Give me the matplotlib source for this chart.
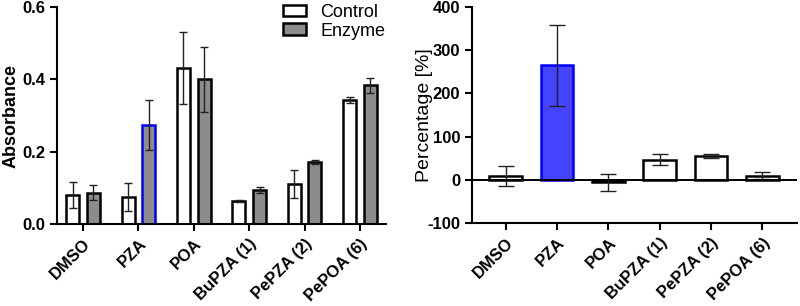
import numpy as np
import matplotlib
matplotlib.use('Agg')
from matplotlib import pyplot as plt

plt.rcParams['font.family'] = ['Liberation Sans', 'DejaVu Sans']
plt.rcParams['axes.unicode_minus'] = False

# data
compounds = ['DMSO', 'PZA', 'POA', 'BuPZA (1)', 'PePZA (2)', 'PePOA (6)']
control = [0.080, 0.074, 0.432, 0.063, 0.110, 0.342]
control_err = [0.037, 0.039, 0.100, 0.002, 0.038, 0.008]
enzyme = [0.087, 0.275, 0.400, 0.094, 0.172, 0.384]
enzyme_err = [0.022, 0.069, 0.090, 0.008, 0.006, 0.021]
percentage = [8, 265, -6, 47, 56, 10]
percentage_err = [23, 93, 20, 12, 5, 8]
highlight = 'PZA'

abs_ticks = [0.0, 0.2, 0.4, 0.6]
pct_ticks = [-100, 0, 100, 200, 300, 400]

fig = plt.figure(figsize=(8, 3.06), dpi=100)
ax1 = fig.add_axes([0.071, 0.268, 0.4115, 0.709])
ax2 = fig.add_axes([0.590, 0.271, 0.406, 0.706])

x = np.arange(len(compounds))
w = 0.235
off = 0.187
blue = '#0000ff'

ecol_enz = ['black'] * len(compounds)
ecol_enz[compounds.index(highlight)] = blue

ax1.bar(x - off, control, w, color='white', edgecolor='black', linewidth=1.8,
        label='Control', zorder=2)
ax1.bar(x + off, enzyme, w, color='#8c8c8c', edgecolor=ecol_enz, linewidth=1.8,
        label='Enzyme', zorder=2)
ax1.errorbar(x - off, control, yerr=control_err, fmt='none', ecolor='#222222',
             elinewidth=1.0, capsize=2.6, capthick=1.0, zorder=3)
ax1.errorbar(x + off, enzyme, yerr=enzyme_err, fmt='none', ecolor='#222222',
             elinewidth=1.0, capsize=2.6, capthick=1.0, zorder=3)

ax1.set_xlim(-0.475, 5.47)
ax1.set_ylim(0, 0.6)
ax1.set_yticks(abs_ticks)
ax1.set_yticklabels(['%.1f' % t for t in abs_ticks])
ax1.set_ylabel('Absorbance', fontsize=13, fontweight='bold')
ax1.yaxis.set_label_coords(-0.113, 0.5)
leg = ax1.legend(loc='upper right', bbox_to_anchor=(1.03, 1.065), frameon=False,
                 fontsize=13, handlelength=1.25, handleheight=0.6,
                 handletextpad=0.8, labelspacing=0.1, borderaxespad=0.2)

# right panel
pcol = ['white'] * len(compounds)
pedge = ['black'] * len(compounds)
pcol[compounds.index(highlight)] = '#4444ff'
pedge[compounds.index(highlight)] = blue
w2 = 0.64
ax2.bar(x, percentage, w2, color=pcol, edgecolor=pedge, linewidth=1.8, zorder=2)
ax2.errorbar(x, percentage, yerr=percentage_err, fmt='none', ecolor='#222222',
             elinewidth=1.0, capsize=5.6, capthick=1.0, zorder=3)
ax2.axhline(0, color='black', linewidth=1.4, zorder=4)
ax2.set_xlim(-0.657, 5.67)
ax2.set_ylim(-100, 400)
ax2.set_yticks(pct_ticks)
ax2.set_ylabel('Percentage [%]', fontsize=14)
ax2.yaxis.set_label_coords(-0.12, 0.5)

for ax in (ax1, ax2):
    ax.spines['top'].set_visible(False)
    ax.spines['right'].set_visible(False)
    ax.spines['left'].set_linewidth(1.5)
    ax.spines['bottom'].set_linewidth(1.5)
    ax.tick_params(width=1.5, length=5, direction='out')
    ax.set_xticks(x)
    ax.set_xticklabels(compounds, rotation=45, ha='right', rotation_mode='anchor',
                       fontweight='bold', fontsize=12)
    for lab in ax.get_yticklabels():
        lab.set_fontweight('bold')
        lab.set_fontsize(12)

fig.savefig('out.png', dpi=100)
